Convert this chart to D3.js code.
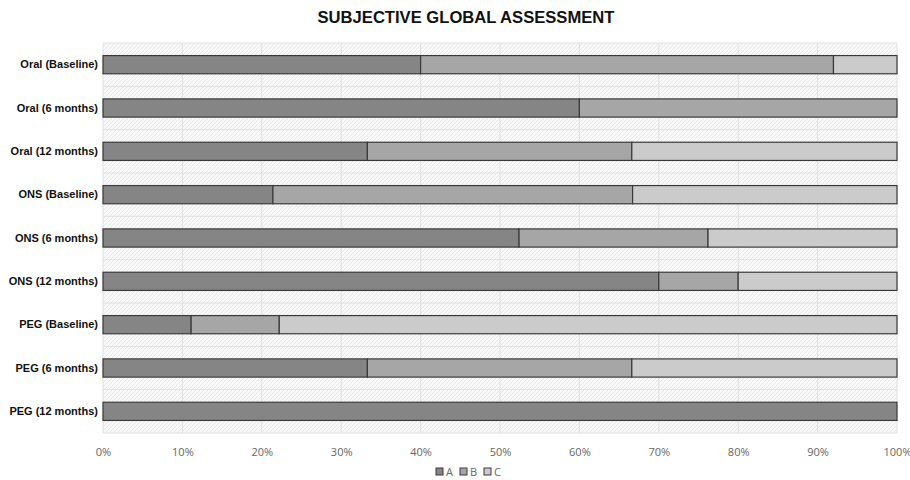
<!DOCTYPE html>
<html>
<head>
<meta charset="utf-8">
<script src="https://cdn.jsdelivr.net/npm/d3@7/dist/d3.min.js"></script>
<style>
  html, body { margin: 0; padding: 0; background: #fff; }
  svg { display: block; }
</style>
</head>
<body>
<svg id="chart" width="910" height="480"></svg>
<script>
// Groups (top to bottom) and the share of patients in each SGA class
const categories = [
  "Oral (Baseline)", "Oral (6 months)", "Oral (12 months)",
  "ONS (Baseline)", "ONS (6 months)", "ONS (12 months)",
  "PEG (Baseline)", "PEG (6 months)", "PEG (12 months)"
];
const seriesNames = ["A", "B", "C"];
const valuesA = [40, 60, 33.3, 21.4, 52.4, 70, 11.1, 33.3, 100];
const valuesB = [52, 40, 33.3, 45.3, 23.8, 10, 11.1, 33.3, 0];
const valuesC = [8, 0, 33.4, 33.3, 23.8, 20, 77.8, 33.4, 0];
const tickValues = [0, 10, 20, 30, 40, 50, 60, 70, 80, 90, 100];
const colors = ["#858585", "#a6a6a6", "#cbcbcb"];

const svg = d3.select("#chart");
const margin = { top: 43, right: 13, bottom: 47, left: 103 };
const W = 910, H = 480;
const innerW = W - margin.left - margin.right;
const innerH = H - margin.top - margin.bottom;

const rows = categories.map((c, i) => ({ cat: c, A: valuesA[i], B: valuesB[i], C: valuesC[i] }));
const stacked = d3.stack().keys(seriesNames)(rows);

const x = d3.scaleLinear().domain([0, 100]).range([0, innerW]);
const y = d3.scaleBand().domain(categories).range([0, innerH]).paddingInner(0.58).paddingOuter(0.29);
const color = d3.scaleOrdinal().domain(seriesNames).range(colors);

// Hatched plot background
const defs = svg.append("defs");
const pat = defs.append("pattern")
  .attr("id", "hatch").attr("patternUnits", "userSpaceOnUse")
  .attr("width", 4).attr("height", 4);
pat.append("rect").attr("width", 4).attr("height", 4).attr("fill", "#f9f9f9");
pat.append("path").attr("d", "M-1,1 l2,-2 M0,4 l4,-4 M3,5 l2,-2")
  .attr("stroke", "#e8e8e8").attr("stroke-width", 1);

const g = svg.append("g").attr("transform", `translate(${margin.left},${margin.top})`);

g.append("rect").attr("width", innerW).attr("height", innerH).attr("fill", "url(#hatch)");

// Vertical gridlines
g.append("g").selectAll("line").data(tickValues).join("line")
  .attr("x1", d => x(d)).attr("x2", d => x(d))
  .attr("y1", 0).attr("y2", innerH)
  .attr("stroke", "#e0e0e0").attr("stroke-width", 1);

// Horizontal gridlines at category boundaries
const bounds = d3.range(categories.length + 1).map(i => i * innerH / categories.length);
g.append("g").selectAll("line").data(bounds).join("line")
  .attr("x1", 0).attr("x2", innerW)
  .attr("y1", d => d).attr("y2", d => d)
  .attr("stroke", "#e0e0e0").attr("stroke-width", 1);

// Stacked bars
g.append("g").selectAll("g").data(stacked).join("g")
  .attr("fill", d => color(d.key))
  .selectAll("rect").data(d => d.filter(s => s[1] - s[0] > 0)).join("rect")
  .attr("x", d => x(d[0]))
  .attr("y", d => y(d.data.cat))
  .attr("width", d => x(d[1]) - x(d[0]))
  .attr("height", y.bandwidth())
  .attr("stroke", "#3a3a3a").attr("stroke-width", 1.2);

// Category labels
const yAxis = g.append("g").call(d3.axisLeft(y).tickSize(0).tickPadding(5));
yAxis.select(".domain").remove();
yAxis.selectAll("text")
  .attr("font-family", "Liberation Sans, Arial, sans-serif")
  .attr("font-size", 11).attr("font-weight", "bold").attr("fill", "#111");

// Percentage axis
const xAxis = g.append("g").attr("transform", `translate(0,${innerH})`)
  .call(d3.axisBottom(x).tickValues(tickValues).tickFormat(d => d + "%").tickSize(0).tickPadding(15));
xAxis.select(".domain").remove();
xAxis.selectAll("text")
  .attr("font-family", "Open Sans, DejaVu Sans, sans-serif")
  .attr("font-size", 11).attr("fill", "#666");

// Title
svg.append("text")
  .attr("x", 466).attr("y", 23)
  .attr("text-anchor", "middle")
  .attr("font-family", "Liberation Sans, Arial, sans-serif")
  .attr("font-size", 16.6).attr("font-weight", "bold").attr("fill", "#111")
  .text("SUBJECTIVE GLOBAL ASSESSMENT");

// Legend
const legend = svg.append("g").attr("transform", "translate(436,472)");
const itemW = 24;
seriesNames.forEach((s, i) => {
  const li = legend.append("g").attr("transform", `translate(${i * itemW},0)`);
  li.append("rect").attr("x", 0).attr("y", -4).attr("width", 7).attr("height", 7)
    .attr("fill", colors[i]).attr("stroke", "#3a3a3a").attr("stroke-width", 1);
  li.append("text").attr("x", 10).attr("y", 3.5)
    .attr("font-family", "Open Sans, DejaVu Sans, sans-serif")
    .attr("font-size", 11).attr("fill", "#666").text(s);
});
</script>
</body>
</html>
